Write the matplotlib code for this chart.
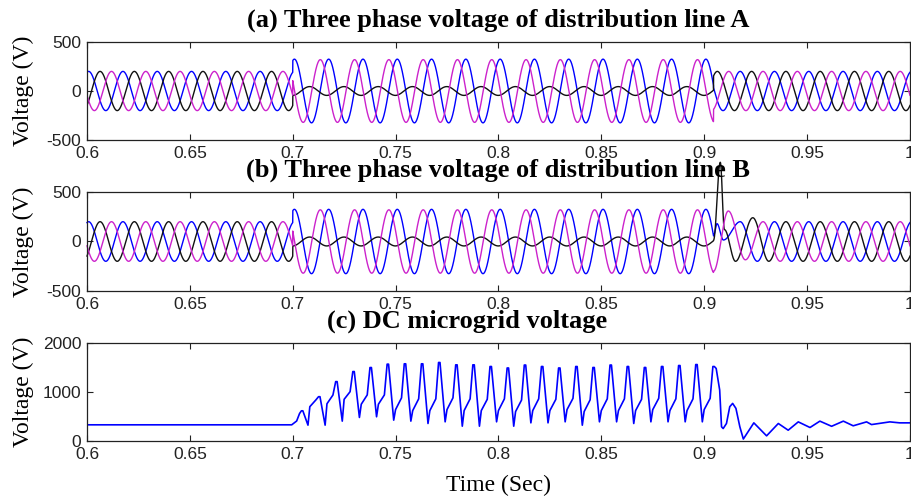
import numpy as np
import matplotlib.pyplot as plt

plt.rcParams['axes.unicode_minus'] = False

# ---- time base and events (s) ----
t_start, t_end = 0.6, 1.0
t_fault_on, t_fault_off = 0.7, 0.9045
f_grid = 60.0
t_ref = 0.6008          # crest of the blue phase, phase reference

# ---- AC line voltages: blue, black, magenta ----
normal_amp = [200, 200, 200]          # V, before and after the fault
normal_phase = [0, -120, -240]        # deg
fault_amp = [325, 45, 320]            # V, 0.7 .. 0.9045 s
fault_phase = [0, -160, 88]           # deg

# line B only: turning points (t, V) of the post-fault transient
lineB_blue_tr = [(0.9045, 56), (0.9062, 180), (0.9093, 15), (0.9175, 200)]
lineB_black_tr = [(0.9045, 12), (0.9078, 800), (0.9098, 120), (0.9152, -200),
                  (0.9236, 240), (0.9314, -200)]
lineB_mag_tr = [(0.9045, -300), (0.9117, 308), (0.9200, -185), (0.9286, 200)]

# ---- DC microgrid voltage ----
dc_start = [(0.6, 330), (0.6995, 330), (0.7019, 408), (0.7033, 560)]
dc_peak_t0 = 0.7045
dc_cycle = 1 / 120
dc_peaks = [616, 904, 1212, 1417, 1499, 1568, 1575, 1575, 1602, 1554, 1554, 1520,
            1490, 1550, 1520, 1490, 1520, 1500, 1550, 1520, 1500, 1520, 1540, 1560,
            1520]
dc_dips = [323, 323, 405, 480, 494, 425, 405, 357, 391, 302, 302, 391,
           302, 370, 370, 391, 322, 391, 391, 357, 391, 391, 391, 391]
dc_shoulder_lo = [700, 760, 850, 750, 750, 640, 620, 620, 640, 620, 620, 620,
                  600, 620, 620, 640, 600, 620, 620, 620, 640, 620, 620, 640]
dc_shoulder_hi = [836, 938, 1006, 940, 940, 880, 860, 860, 880, 860, 850, 860,
                  835, 860, 850, 870, 840, 860, 860, 850, 870, 860, 860, 870]
dc_tail = [(0.9058, 1480), (0.9075, 1040), (0.9084, 290), (0.9092, 254),
           (0.9108, 357), (0.9124, 700), (0.9138, 767), (0.9154, 665),
           (0.9173, 290), (0.9190, 40), (0.9241, 370), (0.9303, 105),
           (0.9360, 357), (0.9408, 220), (0.9457, 390), (0.9514, 275),
           (0.9562, 405), (0.9619, 300), (0.9676, 405), (0.9724, 310),
           (0.9789, 390), (0.9813, 335), (0.9902, 390), (0.9950, 370), (1.0, 370)]

xticks = [0.6, 0.65, 0.7, 0.75, 0.8, 0.85, 0.9, 0.95, 1.0]
xticklabels = ['0.6', '0.65', '0.7', '0.75', '0.8', '0.85', '0.9', '0.95', '1']

colors = ['#0000ff', '#111111', '#cc22cc']

# ---- build the traces ----
t = np.arange(t_start, t_end + 1e-7, 2e-5)
fault = (t >= t_fault_on) & (t < t_fault_off)


def wave(amp, ph):
    return amp * np.cos(2 * np.pi * f_grid * (t - t_ref) + np.radians(ph))


def through(pts):
    # half-cosine between consecutive turning points
    tp = np.array([p[0] for p in pts])
    vp = np.array([p[1] for p in pts])
    m = (t >= tp[0]) & (t <= tp[-1])
    i = np.clip(np.searchsorted(tp, t[m]) - 1, 0, len(tp) - 2)
    frac = (t[m] - tp[i]) / (tp[i + 1] - tp[i])
    return m, vp[i] + (vp[i + 1] - vp[i]) * (1 - np.cos(np.pi * frac)) / 2


line_a = []
for k in range(3):
    y = wave(normal_amp[k], normal_phase[k])
    y[fault] = wave(fault_amp[k], fault_phase[k])[fault]
    line_a.append(y)

line_b = []
for k, tr in enumerate([lineB_blue_tr, lineB_black_tr, lineB_mag_tr]):
    y = line_a[k].copy()
    m, v = through(tr)
    y[m] = v
    line_b.append(y)

dc_t = [p[0] for p in dc_start]
dc_v = [p[1] for p in dc_start]
for k, p in enumerate(dc_peaks):
    tp = dc_peak_t0 + k * dc_cycle
    dc_t += [tp - 0.0003, tp + 0.0004]
    dc_v += [p, p]
    if k < len(dc_dips):
        dc_t += [tp + 0.0029, tp + 0.0038, tp + 0.0067]
        dc_v += [dc_dips[k], dc_shoulder_lo[k], dc_shoulder_hi[k]]
dc_t += [p[0] for p in dc_tail]
dc_v += [p[1] for p in dc_tail]

# ---- figure ----
fig = plt.figure(figsize=(9.12, 4.97), dpi=100)
ax_a = fig.add_axes([0.0954, 0.7183, 0.9024, 0.1972])
ax_b = fig.add_axes([0.0954, 0.4145, 0.9024, 0.1992])
ax_c = fig.add_axes([0.0954, 0.1127, 0.9024, 0.1972])


def style(ax, ylim, yticks, title, title_x=0.5):
    ax.set_xlim(t_start, t_end)
    ax.set_ylim(*ylim)
    ax.set_xticks(xticks)
    ax.set_xticklabels(xticklabels)
    ax.set_yticks(yticks)
    ax.tick_params(direction='in', top=True, right=True, length=4.5, width=0.8,
                   labelsize=12.5, pad=4, labelfontfamily='Liberation Sans',
                   colors='#222222')
    for s in ax.spines.values():
        s.set_linewidth(0.9)
        s.set_color('#222222')
    ax.set_ylabel('Voltage (V)', family='Liberation Serif', fontsize=17)
    ax.yaxis.set_label_coords(-0.064, 0.5)
    ax.set_title(title, family='Liberation Serif', fontweight='bold',
                 fontsize=19, pad=11, x=title_x)


for k in range(3):
    ax_a.plot(t, line_a[k], color=colors[k], lw=1.0)
    ax_b.plot(t, line_b[k], color=colors[k], lw=1.0, clip_on=False)
ax_c.plot(dc_t, dc_v, color='#0000ff', lw=1.2)

style(ax_a, (-500, 500), [-500, 0, 500],
      '(a) Three phase voltage of distribution line A')
style(ax_b, (-500, 500), [-500, 0, 500],
      '(b) Three phase voltage of distribution line B')
style(ax_c, (0, 2000), [0, 1000, 2000], '(c) DC microgrid voltage', title_x=0.462)

ax_c.set_xlabel('Time (Sec)', family='Liberation Serif', fontsize=17)
ax_c.xaxis.set_label_coords(0.5, -0.345)

fig.savefig('out.png', dpi=100)
